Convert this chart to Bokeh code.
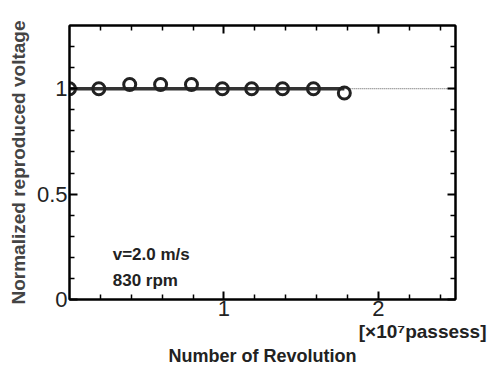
from bokeh.plotting import figure
from bokeh.models import LinearAxis, FixedTicker, Label, Range1d, Title
from bokeh.embed import file_html
from bokeh.resources import INLINE

# Data
revolutions = [0.0, 0.19, 0.39, 0.59, 0.79, 0.99, 1.18, 1.38, 1.58, 1.78]  # x10^7 passes
voltage = [1.0, 1.0, 1.02, 1.02, 1.02, 1.0, 1.0, 1.0, 1.0, 0.98]
fit_x = [0.0, 1.78]
fit_y = [1.0, 1.0]
ext_x = [1.78, 2.5]
ext_y = [1.0, 1.0]
x_major = [1, 2]
x_minor = [0.2, 0.4, 0.6, 0.8, 1.2, 1.4, 1.6, 1.8, 2.2, 2.4]
y_major = [0, 0.5, 1]
y_minor = [0.1, 0.2, 0.3, 0.4, 0.6, 0.7, 0.8, 0.9, 1.1, 1.2]

FONT = "Liberation Sans"

p = figure(width=488, height=367, output_backend="svg", toolbar_location=None,
           x_range=Range1d(0, 2.5), y_range=Range1d(0, 1.3),
           min_border_left=69, min_border_right=33, min_border_top=25, min_border_bottom=8,
           x_axis_location=None, y_axis_location=None)
p.grid.visible = False
p.outline_line_color = "black"
p.outline_line_width = 2
p.background_fill_color = "white"
p.border_fill_color = "white"

def make_axis(ticks, minor, show_labels):
    ax = LinearAxis(ticker=FixedTicker(ticks=ticks, minor_ticks=minor))
    ax.axis_line_width = 2
    ax.axis_line_color = "black"
    ax.major_tick_in = 8
    ax.major_tick_out = 0
    ax.minor_tick_in = 5
    ax.minor_tick_out = 0
    ax.major_tick_line_width = 2
    ax.minor_tick_line_width = 1.5
    ax.major_label_text_font = FONT
    ax.major_label_text_font_size = "22px"
    ax.major_label_text_color = "#222222"
    if not show_labels:
        ax.major_label_text_alpha = 0
        ax.major_label_text_font_size = "1px"
    return ax

xb = make_axis(x_major, x_minor, True)
xb.major_label_standoff = 1
p.add_layout(xb, "below")

t_units = Title(text="[×10⁷passess]", align="right", text_font=FONT,
                text_font_style="bold", text_font_size="19px", text_color="#222222",
                standoff=0, offset=-31)
p.add_layout(t_units, "below")

t_xlab = Title(text="Number of Revolution", align="center", text_font=FONT,
               text_font_style="bold", text_font_size="18px", text_color="#222222",
               standoff=4)
p.add_layout(t_xlab, "below")

xt = make_axis(x_major, x_minor, False)
p.add_layout(xt, "above")

yl = make_axis(y_major, y_minor, True)
yl.axis_label = "Normalized reproduced voltage"
yl.axis_label_text_font = FONT
yl.axis_label_text_font_style = "bold"
yl.axis_label_text_font_size = "19px"
yl.major_label_standoff = 2
yl.axis_label_standoff = 5
yl.major_label_overrides = {0: "0", 0.5: "0.5", 1: "1"}
p.add_layout(yl, "left")

yr = make_axis(y_major, y_minor, False)
p.add_layout(yr, "right")

# lines
p.line(ext_x, ext_y, line_color="#555555", line_width=1, line_dash="1 1")
p.line(fit_x, fit_y, line_color="#333333", line_width=3.5)

# markers
p.scatter(revolutions, voltage, marker="circle", size=12, fill_color=None,
          line_color="#222222", line_width=3)

# annotations
p.add_layout(Label(x=0.28, y=0.215, text="v=2.0 m/s", text_font=FONT,
                   text_font_style="bold", text_font_size="17px",
                   text_baseline="middle", text_color="#222222"))
p.add_layout(Label(x=0.28, y=0.09, text="830 rpm", text_font=FONT,
                   text_font_style="bold", text_font_size="17px",
                   text_baseline="middle", text_color="#222222"))

open("out.html", "w").write(file_html(p, INLINE))
